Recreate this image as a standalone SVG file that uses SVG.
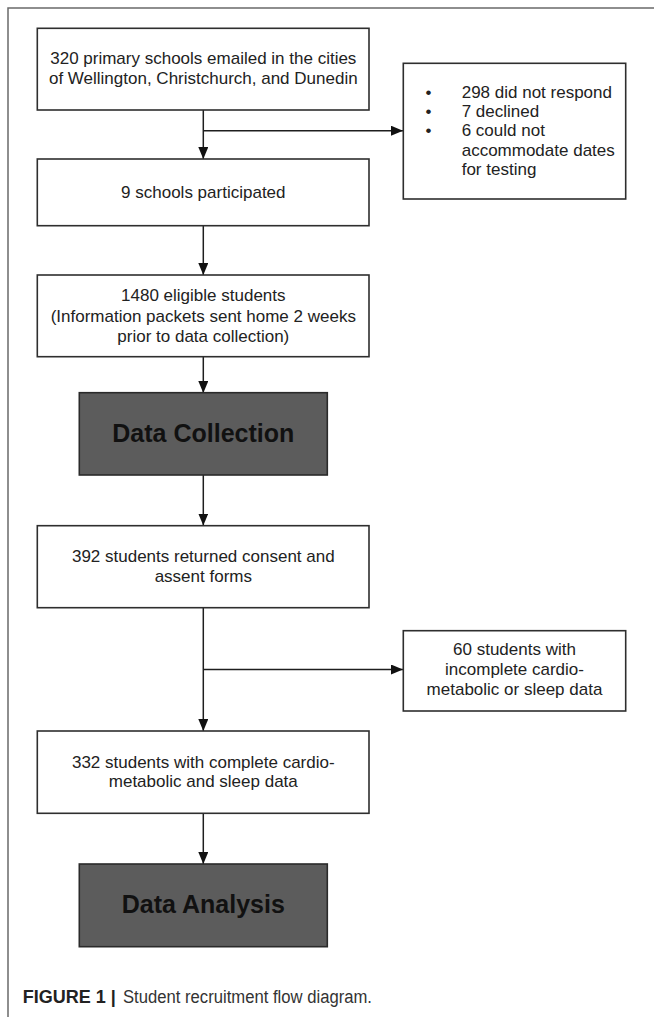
<svg xmlns="http://www.w3.org/2000/svg" width="654" height="1017" viewBox="0 0 654 1017">
<style>
.box{fill:#ffffff;stroke:#2e2e2e;stroke-width:1.6}
.dark{fill:#5c5c5c;stroke:#2a2a2a;stroke-width:1.6}
.t{font-family:"Liberation Sans",Arial,sans-serif;font-size:17px;fill:#222222}
.c{text-anchor:middle}
.big{font-family:"Liberation Sans",Arial,sans-serif;font-size:25px;font-weight:bold;fill:#111111;text-anchor:middle}
.conn{stroke:#1e1e1e;stroke-width:1.5;fill:none}
.frame{stroke:#6a6a6a;stroke-width:1.5;fill:none}
</style>
<defs>
<marker id="arr" viewBox="0 0 12 10" refX="12" refY="5" markerWidth="12" markerHeight="10" markerUnits="userSpaceOnUse" orient="auto">
<path d="M0,0 L12,5 L0,10 z" fill="#111111"/>
</marker>
</defs>
<rect width="654" height="1017" fill="#ffffff"/>
<path class="frame" d="M8,1017 L8,8 L654,8"/>

<g id="connectors">
<line class="conn" x1="203.3" y1="110" x2="203.3" y2="159" marker-end="url(#arr)"/>
<line class="conn" x1="203.3" y1="130.7" x2="403" y2="130.7" marker-end="url(#arr)"/>
<line class="conn" x1="203.3" y1="226" x2="203.3" y2="275" marker-end="url(#arr)"/>
<line class="conn" x1="203.3" y1="357" x2="203.3" y2="393" marker-end="url(#arr)"/>
<line class="conn" x1="203.3" y1="475" x2="203.3" y2="525.5" marker-end="url(#arr)"/>
<line class="conn" x1="203.3" y1="608" x2="203.3" y2="731" marker-end="url(#arr)"/>
<line class="conn" x1="203.3" y1="669.5" x2="403" y2="669.5" marker-end="url(#arr)"/>
<line class="conn" x1="203.3" y1="813" x2="203.3" y2="864" marker-end="url(#arr)"/>
</g>

<g id="n1">
<rect class="box" x="37.3" y="28.3" width="331.7" height="81.7"/>
<text class="t c" x="203.3" y="64.3">320 primary schools emailed in the cities</text>
<text class="t c" x="203.3" y="83.5">of Wellington, Christchurch, and Dunedin</text>
</g>

<g id="n_excl1">
<rect class="box" x="403.3" y="63.3" width="222.4" height="135.7"/>
<text class="t" x="425.5" y="97.7">•</text>
<text class="t" x="425.5" y="117">•</text>
<text class="t" x="425.5" y="136.3">•</text>
<text class="t" x="461.7" y="97.7">298 did not respond</text>
<text class="t" x="461.7" y="117">7 declined</text>
<text class="t" x="461.7" y="136.3">6 could not</text>
<text class="t" x="461.7" y="155.8">accommodate dates</text>
<text class="t" x="461.7" y="175">for testing</text>
</g>

<g id="n2">
<rect class="box" x="37.3" y="159" width="331.7" height="66.7"/>
<text class="t c" x="203.3" y="198">9 schools participated</text>
</g>

<g id="n3">
<rect class="box" x="37.3" y="275" width="331.7" height="81.7"/>
<text class="t c" x="203.3" y="301.3">1480 eligible students</text>
<text class="t c" x="203.3" y="321.5">(Information packets sent home 2 weeks</text>
<text class="t c" x="203.3" y="341.7">prior to data collection)</text>
</g>

<g id="n_collect">
<rect class="dark" x="79.3" y="392.7" width="248" height="82.3"/>
<text class="big" x="203.3" y="442">Data Collection</text>
</g>

<g id="n4">
<rect class="box" x="37.3" y="525.7" width="331.7" height="82"/>
<text class="t c" x="203.3" y="562.3">392 students returned consent and</text>
<text class="t c" x="203.3" y="582.3">assent forms</text>
</g>

<g id="n_excl2">
<rect class="box" x="403.3" y="630.7" width="222.4" height="80.3"/>
<text class="t c" x="514.5" y="655">60 students with</text>
<text class="t c" x="514.5" y="675">incomplete cardio-</text>
<text class="t c" x="514.5" y="695">metabolic or sleep data</text>
</g>

<g id="n5">
<rect class="box" x="37.3" y="731" width="331.7" height="82.3"/>
<text class="t c" x="203.3" y="767.5">332 students with complete cardio-</text>
<text class="t c" x="203.3" y="786.7">metabolic and sleep data</text>
</g>

<g id="n_analysis">
<rect class="dark" x="79.3" y="864" width="248" height="82.7"/>
<text class="big" x="203.3" y="913.3">Data Analysis</text>
</g>

<g id="caption">
<text x="22.7" y="1003.3" font-family="'Liberation Sans',Arial,sans-serif" font-size="18" font-weight="bold" fill="#222222">FIGURE 1 |</text>
<text x="123" y="1003.3" font-family="'Liberation Sans',Arial,sans-serif" font-size="18" fill="#333333" textLength="249" lengthAdjust="spacingAndGlyphs">Student recruitment flow diagram.</text>
</g>
</svg>
